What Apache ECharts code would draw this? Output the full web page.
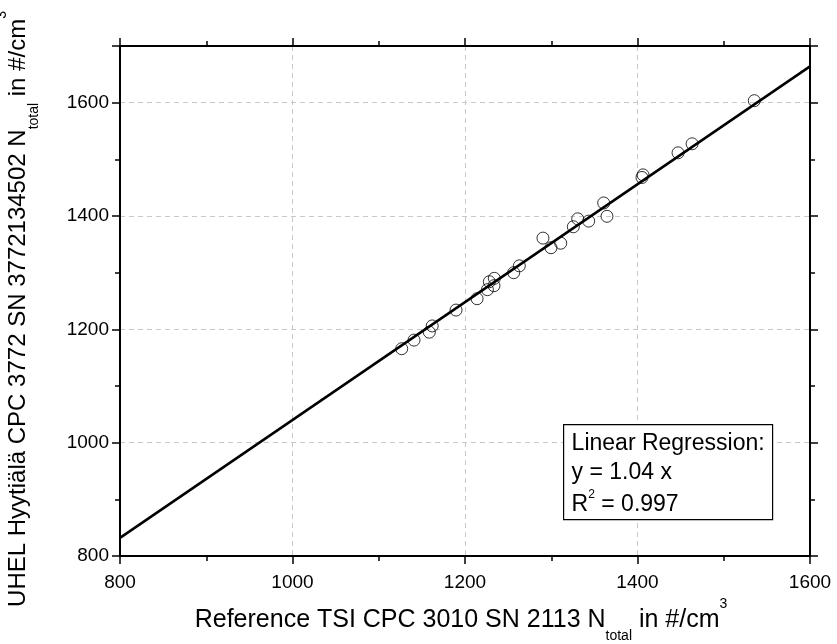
<!DOCTYPE html>
<html>
<head>
<meta charset="utf-8">
<script src="https://cdn.jsdelivr.net/npm/echarts@6/dist/echarts.min.js"></script>
<style>
html,body{margin:0;padding:0;background:#fff;}
#chart{width:837px;height:644px;}
</style>
</head>
<body>
<div id="chart"></div>
<script>
// Reference TSI CPC 3010 (x) vs UHEL CPC 3772 (y), #/cm3
var refX = [1126.6, 1140.9, 1158.6, 1162.0, 1189.6, 1214.0, 1226.0, 1228.2, 1234.0, 1233.6,
            1256.5, 1263.0, 1290.4, 1299.7, 1311.0, 1325.6, 1330.7, 1343.4, 1360.8, 1364.6,
            1405.2, 1406.4, 1447.0, 1463.3, 1535.4];
var uhelY = [1165.8, 1181.0, 1195.0, 1206.0, 1234.0, 1254.0, 1270.0, 1284.0, 1290.0, 1277.0,
             1300.0, 1312.0, 1361.0, 1344.0, 1352.0, 1381.0, 1395.0, 1391.0, 1423.0, 1399.5,
             1468.0, 1472.6, 1511.5, 1527.4, 1603.5];
var slope = 1.04;
var fitX = [800, 1600];
var xTicks = [800, 1000, 1200, 1400, 1600];
var yTicks = [800, 1000, 1200, 1400, 1600];
var boxLines = ['Linear Regression:', 'y = 1.04 x', 'R² = 0.997'];

var points = refX.map(function (x, i) { return [x, uhelY[i]]; });
var fitLine = fitX.map(function (x) { return [x, slope * x]; });

var FONT = 'Liberation Sans, Arial, sans-serif';
var chart = echarts.init(document.getElementById('chart'), null, {renderer: 'canvas'});

function axisBase(extra) {
  var base = {
    type: 'value',
    interval: 200,
    axisLine: {show: true, onZero: false, lineStyle: {color: '#000', width: 2}},
    axisTick: {show: true, inside: false, length: 8, lineStyle: {color: '#000', width: 1.5}},
    minorTick: {show: true, splitNumber: 2, length: 5, lineStyle: {color: '#000', width: 1.5}},
    splitLine: {show: false},
    axisLabel: {show: false}
  };
  for (var k in extra) base[k] = extra[k];
  return base;
}

function nameRich(size) {
  return {
    a: {fontFamily: FONT, fontSize: size, color: '#000', lineHeight: 46, verticalAlign: 'middle'},
    sub: {fontFamily: FONT, fontSize: 14, color: '#000', verticalAlign: 'bottom'},
    sup: {fontFamily: FONT, fontSize: 14, color: '#000', verticalAlign: 'top'}
  };
}

var option = {
  backgroundColor: '#fff',
  animation: false,
  grid: {left: 120, right: 27, top: 46, bottom: 88, containLabel: false, outerBoundsMode: 'none'},
  xAxis: [
    axisBase({
      position: 'bottom', min: 800, max: 1600,
      splitLine: {show: true, lineStyle: {color: '#c8c8c8', type: [5, 4], width: 1}},
      axisLabel: {show: true, fontFamily: FONT, fontSize: 19, color: '#000', margin: 17,
        formatter: function (v) { return xTicks.indexOf(v) >= 0 ? String(v) : ''; }},
      name: '{a|Reference TSI CPC 3010 SN 2113 N}{sub|total}{a| in #/cm}{sup|3}',
      nameLocation: 'middle', nameGap: 41,
      nameTextStyle: {rich: nameRich(25), padding: [0, 8, 0, 0]}
    }),
    axisBase({position: 'top', min: 800, max: 1600})
  ],
  yAxis: [
    axisBase({
      position: 'left', min: 800, max: 1700,
      splitLine: {show: true, lineStyle: {color: '#c8c8c8', type: [5, 4], width: 1}},
      axisLabel: {show: true, fontFamily: FONT, fontSize: 19, color: '#000', margin: 11,
        formatter: function (v) { return yTicks.indexOf(v) >= 0 ? String(v) : ''; }},
      name: '{a|UHEL Hyytiälä CPC 3772 SN 3772134502 N}{sub|total}{a| in #/cm}{sup|3}',
      nameLocation: 'middle', nameGap: 79,
      nameTextStyle: {rich: nameRich(24), padding: [0, 16, 0, 0]}
    }),
    axisBase({position: 'right', min: 800, max: 1700})
  ],
  series: [
    {
      type: 'line', data: fitLine, xAxisIndex: 0, yAxisIndex: 0,
      showSymbol: false, symbol: 'none', silent: true,
      lineStyle: {color: '#000', width: 2.5}, z: 3
    },
    {
      type: 'scatter', data: points, xAxisIndex: 0, yAxisIndex: 0,
      symbol: 'circle', symbolSize: 12,
      itemStyle: {color: 'rgba(255,255,255,0)', borderColor: '#000', borderWidth: 1},
      z: 4
    }
  ],
  graphic: [
    {
      type: 'group', left: 563, top: 424, z: 100,
      children: [
        {type: 'rect', z: 100, shape: {x: 0, y: 0, width: 209, height: 95},
         style: {fill: '#fff', stroke: '#000', lineWidth: 1.2}},
        {type: 'text', z: 101, x: 8, y: 19, style: {text: boxLines[0], font: '23px ' + FONT, fill: '#000', textVerticalAlign: 'middle'}},
        {type: 'text', z: 101, x: 8, y: 48, style: {text: boxLines[1], font: '23px ' + FONT, fill: '#000', textVerticalAlign: 'middle'}},
        {type: 'text', z: 101, x: 8, y: 80, style: {
          text: '{a|R}{sup|2}{a| = 0.997}',
          rich: {a: {font: '23px ' + FONT, fill: '#000', lineHeight: 32, verticalAlign: 'middle'},
                 sup: {font: '12px ' + FONT, fill: '#000', verticalAlign: 'top'}},
          textVerticalAlign: 'middle'}}
      ]
    }
  ]
};
chart.setOption(option);
</script>
</body>
</html>
